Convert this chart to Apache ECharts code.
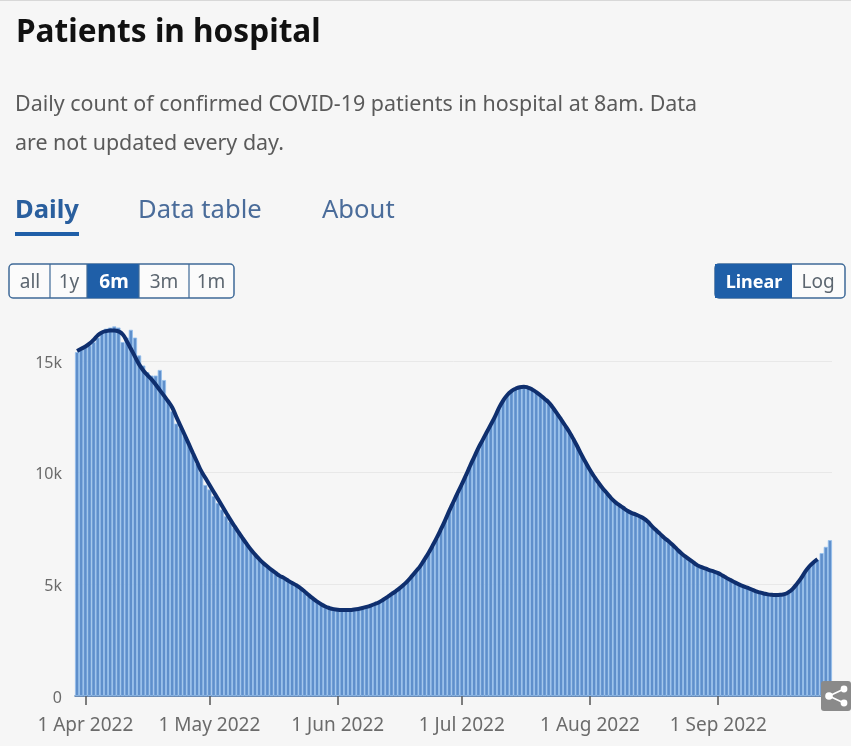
<!DOCTYPE html>
<html lang="en">
<head>
    <meta charset="UTF-8">
    <title>Patients in hospital</title>
    <style>
        *{
            margin: 0;
            padding: 0;
        }
        body,html{
            width: 100%;
            height: 100%;
            background: #f6f6f6;
        }
        #main{
            width: 851px;
            height: 746px;
        }
    </style>
</head>
<body>

<div id="main"></div>

<script src="https://cdn.jsdelivr.net/npm/echarts@6/dist/echarts.min.js"></script>
<script type="text/javascript">
    // daily bars, from 30 Mar 2022
    var patients = [
        15400,15500,15650,15700,15850,16050,16300,16450,16500,16550,
        16500,15850,16050,16400,16050,15250,14800,14500,14350,14350,
        14600,14150,13200,12750,12200,12000,11650,11250,10800,10400,
        10000,9450,9250,8950,8650,8350,8050,7800,7550,7300,
        7050,6800,6550,6300,6100,5950,5780,5630,5480,5350,
        5250,5150,5050,4950,4780,4630,4470,4320,4180,4070,
        3970,3900,3850,3850,3820,3830,3850,3850,3880,3920,
        3970,4030,4100,4180,4280,4400,4530,4660,4800,4950,
        5130,5330,5560,5800,6080,6380,6700,7050,7430,7830,
        8250,8650,9050,9430,9830,10250,10650,11050,11420,11780,
        12120,12480,12870,13200,13480,13650,13800,13850,13900,13850,
        13720,13650,13480,13300,13100,12850,12600,12350,12050,11780,
        11450,11150,10750,10400,10100,9800,9500,9300,9050,8850,
        8700,8500,8400,8300,8200,8120,8050,7900,7750,7550,
        7380,7200,7050,6900,6720,6550,6380,6220,6080,5950,
        5820,5740,5680,5600,5540,5470,5370,5270,5170,5070,
        4970,4900,4830,4760,4680,4620,4570,4530,4510,4500,
        4510,4540,4620,4780,4990,5240,5530,5780,5950,6100,
        6400,6680,6980
    ];

    // 7 day average, stops three days before the last bar
    var average = [
        15450,15550,15650,15780,15950,16150,16280,16340,16370,16370,
        16330,16200,15900,15550,15200,14850,14580,14370,14180,13950,
        13700,13450,13200,12920,12500,12100,11700,11290,10880,10480,
        10080,9770,9460,9150,8840,8530,8220,7910,7620,7340,
        7070,6810,6560,6340,6140,5960,5800,5650,5510,5380,
        5290,5170,5060,4960,4830,4680,4520,4370,4230,4110,
        4010,3940,3890,3860,3850,3850,3850,3870,3900,3940,
        3990,4050,4120,4200,4310,4430,4560,4690,4830,4990,
        5170,5380,5600,5830,6120,6420,6750,7100,7480,7880,
        8300,8700,9100,9480,9880,10300,10700,11100,11450,11800,
        12150,12500,12900,13230,13480,13650,13760,13830,13850,13810,
        13730,13610,13470,13310,13150,12920,12660,12390,12110,11820,
        11500,11150,10780,10450,10120,9830,9560,9320,9100,8880,
        8700,8560,8430,8300,8200,8130,8050,7950,7800,7600,
        7420,7250,7080,6930,6760,6580,6400,6250,6120,5980,
        5850,5770,5700,5630,5570,5500,5400,5290,5190,5090,
        5000,4920,4850,4780,4700,4640,4590,4550,4530,4520,
        4530,4560,4650,4800,5020,5270,5560,5800,5980,6130,
        null,null,null
    ];

    var yTicks = [0, 5000, 10000, 15000];
    var monthLabels = {
        '2022-04-01': '1 Apr 2022',
        '2022-05-01': '1 May 2022',
        '2022-06-01': '1 Jun 2022',
        '2022-07-01': '1 Jul 2022',
        '2022-08-01': '1 Aug 2022',
        '2022-09-01': '1 Sep 2022'
    };

    var days = [];
    for (var i = 0; i < patients.length; i++) {
        days.push(new Date(Date.UTC(2022, 2, 30 + i)).toISOString().slice(0, 10));
    }
    // use the index, the tick callback does not get the raw category back
    function isMonthStart(index) {
        return monthLabels[days[index]] !== undefined;
    }

    var bodyFont = '"Noto Sans", sans-serif';

    function label(text, x, y, size, color, weight, align) {
        return {
            type: 'text', x: x, y: y, silent: true, z: 10,
            style: {
                text: text, fill: color, fontSize: size, fontFamily: bodyFont,
                fontWeight: weight || 'normal', align: align || 'left', verticalAlign: 'middle'
            }
        };
    }
    function box(x, y, w, h, fill, r) {
        return {
            type: 'rect', silent: true, z: 9,
            shape: {x: x, y: y, width: w, height: h, r: r || 0},
            style: {fill: fill}
        };
    }
    function outline(x, y, w, h, r) {
        return {
            type: 'rect', silent: true, z: 9,
            shape: {x: x, y: y, width: w, height: h, r: r},
            style: {fill: '#fbfbfb', stroke: '#3f6a98', lineWidth: 1.5}
        };
    }
    function divider(x) {
        return {
            type: 'line', silent: true, z: 9,
            shape: {x1: x, y1: 264, x2: x, y2: 298},
            style: {stroke: '#3f6a98', lineWidth: 1.2}
        };
    }

    var chrome = [
        box(0, 0, 851, 1, '#d8d8d8'),
        label('Patients in hospital', 16, 33, 31.6, '#111111', 'bold'),
        label('Daily count of confirmed COVID-19 patients in hospital at 8am. Data', 15, 105, 21.45, '#5a5a5a'),
        label('are not updated every day.', 15, 144, 21.45, '#5a5a5a'),
        label('Daily', 15, 211, 25.6, '#2a5f9e', 'bold'),
        label('Data table', 138, 211, 25.6, '#4a6c9a'),
        label('About', 322, 211, 25.6, '#4a6c9a'),
        box(15, 232, 64, 4, '#1f5fa8'),

        outline(9, 264, 225, 34, 4),
        box(87, 264, 52, 34, '#1f5fa8'),
        divider(50), divider(87), divider(139), divider(189),
        label('all', 30, 283, 19, '#5c6670', 'normal', 'center'),
        label('1y', 69, 283, 19, '#5c6670', 'normal', 'center'),
        label('6m', 114, 283, 19, '#ffffff', 'bold', 'center'),
        label('3m', 164, 283, 19, '#5c6670', 'normal', 'center'),
        label('1m', 211, 283, 19, '#5c6670', 'normal', 'center'),

        outline(715, 264, 130, 34, 4),
        box(715, 264, 77, 34, '#1f5fa8'),
        label('Linear', 754, 283, 18, '#ffffff', 'bold', 'center'),
        label('Log', 818, 283, 19, '#5c6670', 'normal', 'center'),

        box(821, 681, 30, 30, '#8a8a8a', 3),
        {
            type: 'polyline', silent: true, z: 10,
            shape: {points: [[844, 689], [829, 696], [844, 703]]},
            style: {fill: 'none', stroke: '#ffffff', lineWidth: 1.6}
        },
        {type: 'circle', silent: true, z: 10, shape: {cx: 844, cy: 689, r: 3.4}, style: {fill: '#ffffff'}},
        {type: 'circle', silent: true, z: 10, shape: {cx: 829, cy: 696, r: 3.8}, style: {fill: '#ffffff'}},
        {type: 'circle', silent: true, z: 10, shape: {cx: 844, cy: 703, r: 3.4}, style: {fill: '#ffffff'}}
    ];

    var myChart = echarts.init(document.getElementById('main'));
    myChart.setOption({
        animation: false,
        backgroundColor: '#f6f6f6',
        graphic: chrome,
        grid: {left: 75, right: 19, top: 249.4, bottom: 50},
        xAxis: {
            type: 'category',
            data: days,
            axisLine: {lineStyle: {color: '#3f6a9e', width: 1.5}},
            axisTick: {
                show: true,
                interval: isMonthStart, alignWithLabel: true, length: 9,
                lineStyle: {color: '#555555', width: 1.5}
            },
            axisLabel: {
                interval: isMonthStart,
                hideOverlap: false,
                margin: 20,
                fontSize: 19,
                fontFamily: bodyFont,
                color: '#6b6b6b',
                formatter: function (value) {
                    return monthLabels[value] || '';
                }
            }
        },
        yAxis: {
            type: 'value',
            min: 0,
            max: 20000,
            interval: 5000,
            axisLine: {show: false},
            axisTick: {show: false},
            splitLine: {showMaxLine: false, lineStyle: {color: '#e8e8e8'}},
            axisLabel: {
                customValues: yTicks,
                margin: 13,
                verticalAlign: 'top',
                lineHeight: 4,
                fontSize: 16,
                fontFamily: bodyFont,
                color: '#6b6b6b',
                formatter: function (value) {
                    return value === 0 ? '0' : (value / 1000) + 'k';
                }
            }
        },
        series: [
            {
                name: 'Daily',
                type: 'bar',
                data: patients,
                barCategoryGap: '0%',
                itemStyle: {color: '#5f8fcb', borderColor: '#96c0ee', borderWidth: 0.8}
            },
            {
                name: '7 day average',
                type: 'line',
                data: average,
                smooth: true,
                showSymbol: false,
                z: 5,
                lineStyle: {color: '#0f2f6e', width: 4}
            }
        ]
    });
</script>
</body>
</html>
